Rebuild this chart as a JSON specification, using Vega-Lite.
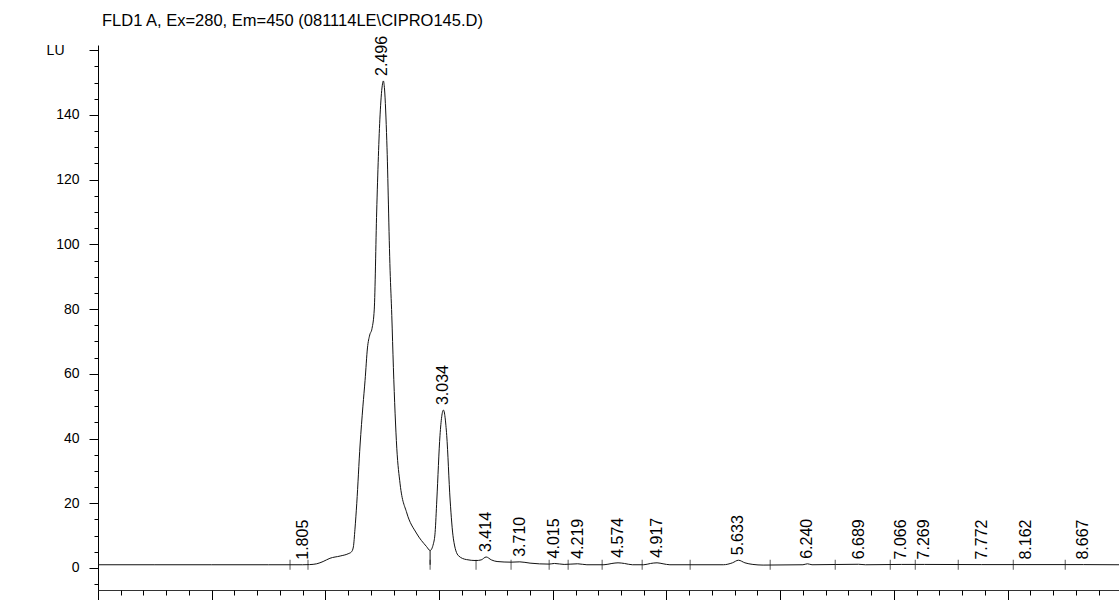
{
  "$schema": "https://vega.github.io/schema/vega-lite/v6.json",
  "width": 1021,
  "height": 545,
  "autosize": {"type": "none"},
  "padding": {"left": 98, "top": 45, "right": 0, "bottom": 10},
  "background": "white",
  "config": {
    "view": {"stroke": null},
    "font": "Liberation Sans",
    "axis": {
      "grid": false,
      "title": null,
      "labelFont": "Liberation Sans",
      "labelFontSize": 14,
      "labelColor": "black",
      "tickColor": "black",
      "domainColor": "black",
      "tickWidth": 1,
      "domainWidth": 1
    }
  },
  "title": {
    "text": "FLD1 A, Ex=280, Em=450 (081114LE\\CIPRO145.D)",
    "anchor": "start",
    "frame": "group",
    "fontSize": 16.5,
    "fontWeight": "normal",
    "color": "black",
    "baseline": "alphabetic",
    "offset": 17,
    "dx": 4,
    "dy": 24
  },
  "datasets": {
    "signal": [
      {"t": 0.0, "lu": 1.0}, {"t": 0.5, "lu": 1.0}, {"t": 1.0, "lu": 1.0}, {"t": 1.5, "lu": 1.0},
      {"t": 1.8, "lu": 1.0}, {"t": 1.86, "lu": 1.05}, {"t": 1.924, "lu": 1.3}, {"t": 1.98, "lu": 2.0},
      {"t": 2.04, "lu": 3.0}, {"t": 2.13, "lu": 3.7}, {"t": 2.2, "lu": 4.4}, {"t": 2.23, "lu": 5.0},
      {"t": 2.246, "lu": 6.5}, {"t": 2.26, "lu": 12}, {"t": 2.276, "lu": 20}, {"t": 2.305, "lu": 38},
      {"t": 2.33, "lu": 50}, {"t": 2.349, "lu": 58}, {"t": 2.37, "lu": 68}, {"t": 2.39, "lu": 72},
      {"t": 2.41, "lu": 74}, {"t": 2.43, "lu": 80}, {"t": 2.451, "lu": 110}, {"t": 2.481, "lu": 140},
      {"t": 2.5, "lu": 149}, {"t": 2.51, "lu": 150.5}, {"t": 2.52, "lu": 148}, {"t": 2.54, "lu": 132},
      {"t": 2.569, "lu": 92}, {"t": 2.584, "lu": 78}, {"t": 2.598, "lu": 62}, {"t": 2.628, "lu": 37},
      {"t": 2.657, "lu": 26}, {"t": 2.716, "lu": 17}, {"t": 2.8, "lu": 10.8}, {"t": 2.89, "lu": 6.6},
      {"t": 2.921, "lu": 5.4}, {"t": 2.95, "lu": 7.5}, {"t": 2.965, "lu": 11}, {"t": 2.98, "lu": 21},
      {"t": 3.008, "lu": 41}, {"t": 3.038, "lu": 48.8}, {"t": 3.067, "lu": 41}, {"t": 3.097, "lu": 21},
      {"t": 3.126, "lu": 9}, {"t": 3.17, "lu": 3.8}, {"t": 3.24, "lu": 2.6}, {"t": 3.325, "lu": 2.3},
      {"t": 3.37, "lu": 2.5}, {"t": 3.414, "lu": 3.4}, {"t": 3.46, "lu": 2.5}, {"t": 3.51, "lu": 2.0},
      {"t": 3.633, "lu": 1.8}, {"t": 3.71, "lu": 1.9}, {"t": 3.8, "lu": 1.5}, {"t": 3.968, "lu": 1.2},
      {"t": 4.015, "lu": 1.4}, {"t": 4.1, "lu": 1.1}, {"t": 4.219, "lu": 1.3}, {"t": 4.3, "lu": 1.0},
      {"t": 4.45, "lu": 1.0}, {"t": 4.52, "lu": 1.4}, {"t": 4.574, "lu": 1.6}, {"t": 4.63, "lu": 1.4},
      {"t": 4.7, "lu": 1.0}, {"t": 4.8, "lu": 1.0}, {"t": 4.86, "lu": 1.4}, {"t": 4.917, "lu": 1.6},
      {"t": 4.97, "lu": 1.3}, {"t": 5.03, "lu": 1.0}, {"t": 5.5, "lu": 1.0}, {"t": 5.58, "lu": 1.6},
      {"t": 5.633, "lu": 2.4}, {"t": 5.69, "lu": 1.6}, {"t": 5.76, "lu": 1.1}, {"t": 5.85, "lu": 0.9},
      {"t": 6.2, "lu": 1.0}, {"t": 6.24, "lu": 1.3}, {"t": 6.28, "lu": 1.0}, {"t": 6.689, "lu": 1.15},
      {"t": 6.75, "lu": 1.0}, {"t": 7.066, "lu": 1.1}, {"t": 7.269, "lu": 1.1}, {"t": 7.772, "lu": 1.05},
      {"t": 8.162, "lu": 1.05}, {"t": 8.667, "lu": 1.05}, {"t": 8.98, "lu": 1.0}
    ],
    "peaks": [
      {"rt": 1.805, "height": 1.0, "name": "1.805"},
      {"rt": 2.496, "height": 150.5, "name": "2.496"},
      {"rt": 3.034, "height": 48.8, "name": "3.034"},
      {"rt": 3.414, "height": 3.4, "name": "3.414"},
      {"rt": 3.71, "height": 1.9, "name": "3.710"},
      {"rt": 4.015, "height": 1.4, "name": "4.015"},
      {"rt": 4.219, "height": 1.3, "name": "4.219"},
      {"rt": 4.574, "height": 1.6, "name": "4.574"},
      {"rt": 4.917, "height": 1.6, "name": "4.917"},
      {"rt": 5.633, "height": 2.4, "name": "5.633"},
      {"rt": 6.24, "height": 1.3, "name": "6.240"},
      {"rt": 6.689, "height": 1.15, "name": "6.689"},
      {"rt": 7.066, "height": 1.1, "name": "7.066"},
      {"rt": 7.269, "height": 1.1, "name": "7.269"},
      {"rt": 7.772, "height": 1.05, "name": "7.772"},
      {"rt": 8.162, "height": 1.05, "name": "8.162"},
      {"rt": 8.667, "height": 1.05, "name": "8.667"}
    ],
    "events": [
      {"rt": 1.689}, {"rt": 1.847}, {"rt": 2.921}, {"rt": 3.325}, {"rt": 3.633}, {"rt": 3.968},
      {"rt": 4.135}, {"rt": 4.434}, {"rt": 4.786}, {"rt": 5.208}, {"rt": 5.912}, {"rt": 6.484},
      {"rt": 6.968}, {"rt": 7.188}, {"rt": 7.566}, {"rt": 8.05}, {"rt": 8.507}
    ],
    "valleys": [
      {"rt": 2.921, "level": 5.4}
    ]
  },
  "layer": [
    {
      "mark": {"type": "rule", "color": "#111", "strokeWidth": 1},
      "encoding": {
        "y": {"datum": 1.0, "type": "quantitative", "scale": {"domain": [-6.8, 161.6], "nice": false, "zero": false}, "axis": null}
      }
    },
    {
      "data": {"name": "signal"},
      "mark": {"type": "line", "color": "#111", "strokeWidth": 1, "interpolate": "monotone"},
      "encoding": {
        "x": {
          "field": "t", "type": "quantitative",
          "scale": {"domain": [0, 8.98], "nice": false, "zero": false},
          "axis": {
            "orient": "bottom",
            "values": [0, 1, 2, 3, 4, 5, 6, 7, 8, 9],
            "tickSize": 10,
            "labels": false,
            "domainColor": "#333"
          }
        },
        "y": {
          "field": "lu", "type": "quantitative",
          "scale": {"domain": [-6.8, 161.6], "nice": false, "zero": false},
          "axis": {
            "orient": "left",
            "values": [0, 20, 40, 60, 80, 100, 120, 140, 160],
            "labelExpr": "datum.value == 160 ? 'LU' : datum.label",
            "tickSize": 9,
            "labelPadding": {"condition": {"test": "datum.value == 160", "value": 25}, "value": 10}
          }
        }
      }
    },
    {
      "data": {"name": "valleys"},
      "mark": {"type": "rule", "color": "#111", "strokeWidth": 1},
      "encoding": {
        "x": {"field": "rt", "type": "quantitative", "axis": null},
        "y": {"field": "level", "type": "quantitative", "axis": null},
        "y2": {"datum": 1.0}
      }
    },
    {
      "data": {"name": "events"},
      "mark": {"type": "tick", "orient": "vertical", "color": "#111", "size": 10, "thickness": 1},
      "encoding": {
        "x": {"field": "rt", "type": "quantitative", "axis": null},
        "y": {"datum": 1.0, "type": "quantitative", "axis": null}
      }
    },
    {
      "data": {"name": "peaks"},
      "mark": {"type": "text", "angle": 270, "align": "left", "baseline": "middle", "dx": 5, "fontSize": 16, "color": "black"},
      "encoding": {
        "x": {
          "field": "rt", "type": "quantitative",
          "scale": {"domain": [0, 8.98], "nice": false, "zero": false},
          "axis": {
            "orient": "bottom",
            "values": [0, 0.2, 0.4, 0.6, 0.8, 1, 1.2, 1.4, 1.6, 1.8, 2, 2.2, 2.4, 2.6, 2.8, 3, 3.2, 3.4, 3.6, 3.8, 4, 4.2, 4.4, 4.6, 4.8, 5, 5.2, 5.4, 5.6, 5.8, 6, 6.2, 6.4, 6.6, 6.8, 7, 7.2, 7.4, 7.6, 7.8, 8, 8.2, 8.4, 8.6, 8.8],
            "tickSize": 5,
            "labels": false,
            "domain": false
          }
        },
        "y": {
          "field": "height", "type": "quantitative",
          "scale": {"domain": [-6.8, 161.6], "nice": false, "zero": false},
          "axis": {
            "orient": "left",
            "values": [-5, 0, 5, 10, 15, 20, 25, 30, 35, 40, 45, 50, 55, 60, 65, 70, 75, 80, 85, 90, 95, 100, 105, 110, 115, 120, 125, 130, 135, 140, 145, 150, 155, 160],
            "tickSize": 4,
            "labels": false,
            "domain": false
          }
        },
        "text": {"field": "name", "type": "nominal"}
      }
    }
  ],
  "resolve": {"axis": {"x": "independent", "y": "independent"}}
}
